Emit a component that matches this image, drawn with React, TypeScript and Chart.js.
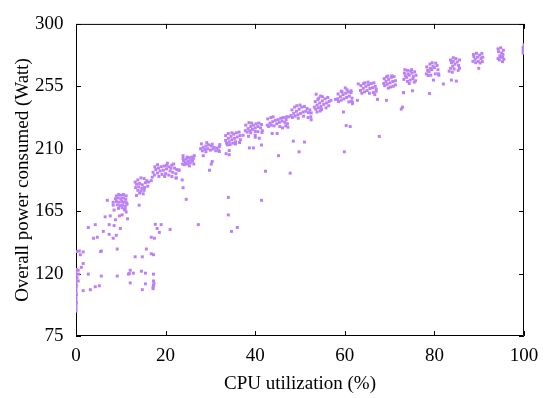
import React, { useEffect, useRef } from "react";
import { Chart, registerables } from "chart.js";

Chart.register(...registerables);

type Pt = [number, number];

const xTickValues = [0, 20, 40, 60, 80, 100];
const yTickValues = [75, 120, 165, 210, 255, 300];
const xAxisTitle = "CPU utilization (%)";
const yAxisTitle = "Overall power consumed (Watt)";

const idlePoints: Pt[] = [
  [0, 93], [0, 95], [0, 97], [0.1, 99], [0, 101], [0, 103], [0.1, 105], [0, 107], [0, 109], [0.1, 111],
  [0, 113], [0, 115], [0.2, 117], [0, 119], [0, 121], [0.1, 123], [0.5, 114.7], [0.6, 119.6], [0.5, 122.4],
  [1.2, 124.5], [1.6, 127.3], [0.15, 135.9], [0.74, 136.3], [1.6, 135.6], [0.96, 133.6], [2.75, 119.6],
  [1.6, 107.7], [3.2, 108.4], [4.3, 110.5], [5.2, 111.2], [2.75, 153.2], [3.9, 145.5], [4.75, 146.2],
  [4.3, 155.3], [5.5, 135.9], [5.65, 136.3], [5.65, 118.2],
];

const load10Points: Pt[] = [
  [6.1, 150.4], [6.5, 160.9], [7.65, 161.6], [7.4, 155.3], [7.4, 148.3], [8.5, 154.6], [8.3, 145.5],
  [9.0, 147.6], [9.9, 152.5], [8.8, 158.8], [9.7, 161.6], [10.3, 162.3], [11.5, 159.5], [11.2, 164.4],
  [11.0, 166.5], [7.0, 172.8], [8.3, 171.4], [8.3, 169.3], [8.5, 165.8], [9.2, 137.7], [9.2, 118.2],
  [12.1, 122.4], [11.7, 119.6], [12.8, 120.3], [11.9, 120], [12.1, 113.3],
  [9, 176], [9.5, 177], [10, 176.5], [10.6, 177], [11.2, 176], [8.8, 174], [9.4, 174.5], [10, 174],
  [10.6, 174.5], [11.1, 173.5], [9, 172], [9.6, 171.5], [10.2, 172], [10.8, 171.5], [11.3, 171],
  [9.2, 169.5], [9.8, 169], [10.4, 169.5], [11, 168.5], [9.5, 167], [10.3, 167.5], [10.8, 166], [11.4, 170],
];

const load15Points: Pt[] = [
  [13.2, 132.1], [14.8, 132.1], [15.7, 137.7], [16.8, 134.3], [17.3, 133.6], [14.6, 121.7], [15.5, 120.3],
  [17.3, 119.6], [15.5, 112.6], [17.3, 114.7], [17.4, 113], [17.3, 111.5], [17.2, 110.3], [17.2, 109.1],
  [14.8, 108.4], [14.1, 169.3], [13.5, 176.3], [16.8, 187], [17.7, 155.5], [19, 155.3], [18.1, 152.5],
  [18.6, 149.7], [21, 151.8], [16.8, 146.2], [17.5, 145.5],
  [13.2, 186], [13.8, 187.5], [14.5, 189], [15.2, 188.5], [15.8, 187], [13.5, 184.5], [14.2, 185],
  [14.8, 184], [15.5, 185.5], [16, 183], [13.3, 182], [14, 182.5], [14.7, 181.5], [15.3, 182], [13.8, 180],
  [14.5, 179.5], [15.2, 180], [14.2, 178], [15, 177.5], [16.2, 186],
];

const load20Points: Pt[] = [
  [17.2, 193], [17.8, 195], [18.4, 196], [19, 197], [19.6, 197.5], [20.2, 198], [20.8, 197], [21.4, 198.2],
  [22, 196], [17.5, 191], [18.2, 192.5], [18.8, 194], [19.5, 194.5], [20.2, 195.5], [21, 194], [21.6, 193],
  [22.3, 192], [18.5, 190], [19.2, 191.5], [20, 192], [20.7, 191], [21.4, 190], [22.4, 188.9], [23, 194.7],
  [20.4, 199.6], [22.3, 188.9], [21.2, 196], [19.8, 190],
  [17.6, 197], [18.2, 198.5], [22.5, 195], [21.8, 199], [17, 189.5],
];

const load25Points: Pt[] = [
  [23.8, 199], [24.4, 200], [25, 201], [25.6, 202], [26.2, 203], [24, 201.5], [24.6, 202.5], [25.2, 203.5],
  [25.8, 204], [24.2, 198.5], [24.9, 199], [25.5, 199.8], [26, 201], [24.8, 204], [23.9, 203], [23, 194.5],
  [23.7, 187.5], [23.9, 181.9], [24.6, 173.5], [27.3, 155.3],
  [23.9, 205], [26.3, 199], [26.4, 205], [25.3, 197.6],
];

const load30Points: Pt[] = [
  [27.8, 210], [28.4, 211], [29, 212], [29.6, 212.8], [30.2, 212], [30.8, 211], [31.4, 210.5], [32, 211.5],
  [28.2, 208.5], [28.8, 209.5], [29.4, 210], [30, 209], [30.6, 209.8], [31.2, 208.5], [29, 207.8],
  [30.4, 213.3], [28.4, 205], [29.8, 194.5], [30.2, 198.9], [30.4, 200.8], [32, 208], [33.5, 206.4],
  [34.2, 208.7], [34.2, 205.7],
  [28, 213.5], [31.8, 209], [29.2, 214.4], [32.1, 213],
];

const load35Points: Pt[] = [
  [33.4, 216], [34, 217.5], [34.6, 219], [35.2, 220.5], [35.8, 221.5], [36.4, 222], [33.6, 214], [34.2, 215],
  [34.8, 216.5], [35.4, 217.5], [36, 218.5], [36.6, 219.5], [34.4, 213], [35, 214], [35.6, 215],
  [34.8, 221.5], [35.6, 213.4], [37.3, 219.7], [38.5, 219], [34, 174.9], [34, 162.3], [36, 153.2], [34.7, 150.4],
  [33.4, 219.5], [34, 221], [36.5, 214.5], [36.7, 216.5], [33.8, 212.8],
];

const load40Points: Pt[] = [
  [37.8, 223], [38.4, 224.5], [39, 226], [39.6, 227], [40.2, 228], [40.8, 228.5], [41.4, 227.5], [38.2, 222],
  [38.8, 223], [39.4, 224], [40, 225], [40.6, 226], [41.2, 225], [39.2, 228.5], [40, 222.5], [41.6, 223],
  [38.7, 210.6], [39.6, 210.6], [40, 219.7], [40, 218.3], [40.9, 217.6], [41.4, 212.7], [41.4, 172.8], [42.3, 193.8],
  [37.9, 227], [38.6, 228.8], [41.5, 221.7], [40.6, 222.3], [39, 221.5],
];

const load45Points: Pt[] = [
  [42.7, 227], [43.3, 228.5], [43.9, 229.5], [44.5, 230.5], [45.1, 231], [45.7, 232], [46.3, 232.5],
  [46.9, 231], [47.5, 233], [43, 226], [43.6, 227], [44.2, 226.5], [44.8, 228], [45.4, 229], [46, 230],
  [46.6, 229], [47.2, 228], [45.5, 226], [46.8, 226.5], [47, 233], [43.8, 221], [44.9, 221], [45.2, 205], [47.8, 192.4],
  [42.8, 231.5], [43.5, 232.5], [47.3, 225.5], [46.1, 225], [44, 233],
];

const load50Points: Pt[] = [
  [48, 234], [48.6, 235.5], [49.2, 237], [49.8, 238.5], [50.4, 240], [51, 240.5], [51.6, 239], [52.2, 238],
  [48.3, 232.5], [48.9, 233.5], [49.5, 234.5], [50.1, 235.5], [50.7, 236.5], [51.3, 237], [51.9, 236],
  [49.6, 232], [50.8, 233.5], [52.5, 235.8], [52.5, 230.9], [48.5, 215.5], [51, 214.8], [49.8, 207.8], [49.3, 241],
  [48.2, 238], [48.8, 240], [52.4, 233], [51.8, 232.5], [50, 241.5],
];

const load55Points: Pt[] = [
  [53.2, 240], [53.8, 241.5], [54.4, 243], [55, 244.5], [55.6, 246], [56.2, 247], [53.5, 238.5], [54.1, 239.5],
  [54.7, 240.5], [55.3, 242], [55.9, 243], [56.5, 244], [54.2, 246.5], [55, 247.5], [53.6, 249.3],
  [54.5, 237.2], [54.8, 238.3], [56.9, 244.9], [57.9, 245.6], [59.7, 236.5], [60.3, 226.7], [61.2, 226], [59.9, 207.8],
  [53.4, 244], [54, 245.5], [55.8, 239.5], [56.4, 241], [54.6, 248], [53.8, 236.5],
];

const load60Points: Pt[] = [
  [58.4, 246], [59, 247.5], [59.6, 249], [60.2, 250], [60.8, 251], [61.4, 250.5], [58.6, 244], [59.2, 245],
  [59.8, 246], [60.4, 247], [61, 248], [61.6, 246.5], [59.4, 251], [60.1, 253.9], [61.4, 251.8],
  [61.7, 243.5], [61.7, 242.5], [62.8, 244.9], [63, 256.7],
  [58.5, 249.5], [59.2, 251.5], [61.5, 244.2], [60.9, 243.8], [60.5, 252.5],
];

const load65Points: Pt[] = [
  [63.5, 252], [64.1, 253.5], [64.7, 255], [65.3, 256], [65.9, 257], [66.5, 257.5], [63.8, 250], [64.4, 251],
  [65, 252], [65.6, 253.5], [66.2, 254], [66.8, 255], [64.5, 257.5], [65.5, 250], [67, 251.4], [66.7, 249],
  [67.3, 245.6], [69.3, 244.9], [67.7, 218.9],
  [63.6, 255.5], [64.2, 257], [67, 253], [66.4, 250.5], [65.2, 258],
];

const load70Points: Pt[] = [
  [68.7, 257], [69.2, 258.5], [69.8, 260], [70.4, 261.5], [71, 262], [68.9, 255.5], [69.5, 256.5],
  [70.1, 257.5], [70.7, 258.5], [71.3, 259], [69.6, 262.4], [70.2, 254.5], [69.7, 253.7], [73.1, 250.5],
  [72.9, 240], [72.6, 238.6],
  [68.8, 260.5], [69.3, 261.8], [71.3, 256], [70.8, 255], [70.5, 262.6],
];

const load75Points: Pt[] = [
  [73.2, 260], [73.8, 261.5], [74.4, 263], [75, 264.5], [75.6, 265.5], [73.5, 262.5], [74.1, 264], [74.7, 266],
  [75.3, 262], [75.9, 263], [74, 258.5], [74.6, 259.5], [75.2, 260.5], [73.4, 267], [74.4, 257],
  [73.1, 250.4], [75.1, 251.8],
  [73.3, 264.5], [74, 266.5], [75.8, 259], [75.5, 258], [74.9, 267],
];

const load80Points: Pt[] = [
  [78.2, 264], [78.8, 265.5], [79.4, 267], [80, 268.5], [80.6, 270], [78.5, 266.5], [79.1, 268], [79.7, 269.5],
  [80.3, 271.7], [80.8, 267], [79.2, 263], [80.2, 264], [78.6, 262.8], [79.8, 259.5], [78.9, 249.8], [82, 256.7],
  [78.3, 269], [79, 271], [80.9, 264], [81, 263], [79.5, 272],
];

const load85Points: Pt[] = [
  [83.6, 268], [84.1, 269.5], [84.6, 271], [85.1, 272.5], [85.6, 274], [84.2, 275.6], [84.8, 275], [83.8, 272],
  [85.4, 270], [84.4, 267.5], [83.3, 265.9], [84, 265.2], [83.8, 259.5], [84.9, 258.8],
  [83.6, 274], [84.2, 273], [85.6, 268], [85.3, 266.5],
];

const load90Points: Pt[] = [
  [88.6, 273], [89.1, 274.5], [89.6, 276], [90.1, 277.5], [90.6, 278.7], [89.2, 272], [89.8, 273],
  [90.4, 275], [88.8, 276.5], [90.8, 276], [89.9, 268],
  [88.7, 278], [89.4, 278.8], [90.7, 272.8], [90.2, 271.8],
];

const load95Points: Pt[] = [
  [94.2, 275], [94.6, 277], [95, 279], [95.4, 281], [94.8, 282.8], [94.3, 280], [95.3, 278], [94.5, 274],
  [95.2, 276], [95.2, 272.8], [94.2, 282], [95.5, 274.5], [94.8, 276],
];

const load100Points: Pt[] = [
  [99.8, 279], [99.8, 281], [99.8, 283], [100, 285], [100, 280], [100, 282],
];

const allPoints: Pt[] = [
  ...idlePoints, ...load10Points, ...load15Points, ...load20Points, ...load25Points, ...load30Points,
  ...load35Points, ...load40Points, ...load45Points, ...load50Points, ...load55Points, ...load60Points,
  ...load65Points, ...load70Points, ...load75Points, ...load80Points, ...load85Points, ...load90Points,
  ...load95Points, ...load100Points,
];

const FONT_FAMILY = "'Liberation Serif', 'Times New Roman', Times, serif";

export default function App() {
  const ref = useRef<HTMLCanvasElement>(null);

  useEffect(() => {
    if (!ref.current) return;
    const font = { family: FONT_FAMILY, size: 19 };

    const gnuFrame = {
      id: "gnuFrame",
      beforeDatasetsDraw(chart: any) {
        const { ctx, chartArea: a, scales } = chart;
        ctx.save();
        ctx.strokeStyle = "#000";
        ctx.lineWidth = 1;
        ctx.beginPath();
        ctx.rect(a.left + 0.5, a.top + 0.5, a.right - a.left - 1, a.bottom - a.top - 1);
        ctx.stroke();
        const tl = 5;
        ctx.beginPath();
        for (const v of xTickValues) {
          const x = Math.round(scales.x.getPixelForValue(v)) + 0.5;
          ctx.moveTo(x, a.bottom);
          ctx.lineTo(x, a.bottom - tl);
          ctx.moveTo(x, a.top);
          ctx.lineTo(x, a.top + tl);
        }
        for (const v of yTickValues) {
          const y = Math.round(scales.y.getPixelForValue(v)) + 0.5;
          ctx.moveTo(a.left, y);
          ctx.lineTo(a.left + tl, y);
          ctx.moveTo(a.right, y);
          ctx.lineTo(a.right - tl, y);
        }
        ctx.stroke();
        ctx.restore();
      },
    };

    const chart = new Chart(ref.current, {
      type: "scatter",
      data: {
        datasets: [
          {
            label: "power",
            data: allPoints.map(([x, y]) => ({ x, y })),
            pointStyle: "rect",
            pointRadius: 2.1,
            pointHoverRadius: 2.1,
            borderWidth: 0,
            backgroundColor: "#bb80f7",
            borderColor: "#bb80f7",
          },
        ],
      },
      options: {
        animation: false,
        responsive: false,
        devicePixelRatio: 1,
        layout: { padding: { left: 0, top: 14, right: 27, bottom: 0 } },
        plugins: { legend: { display: false }, tooltip: { enabled: false } },
        scales: {
          x: {
            type: "linear",
            min: 0,
            max: 100,
            afterBuildTicks: (s: any) => {
              s.ticks = xTickValues.map((v) => ({ value: v }));
            },
            afterFit: (s: any) => {
              s.height = 62;
            },
            grid: { display: false, drawTicks: false },
            border: { display: false },
            ticks: { color: "#000", font, padding: 9, maxRotation: 0 },
            title: {
              display: true,
              text: xAxisTitle,
              color: "#000",
              font,
              padding: { top: 0, bottom: 3 },
            },
          },
          y: {
            type: "linear",
            min: 75,
            max: 300,
            afterBuildTicks: (s: any) => {
              s.ticks = yTickValues.map((v) => ({ value: v }));
            },
            afterFit: (s: any) => {
              s.width = 76;
            },
            grid: { display: false, drawTicks: false },
            border: { display: false },
            ticks: { color: "#000", font, padding: 12.5 },
            title: {
              display: true,
              text: yAxisTitle,
              color: "#000",
              font,
              padding: { top: 11.5, bottom: 0 },
            },
          },
        },
      },
      plugins: [gnuFrame],
    });

    return () => chart.destroy();
  }, []);

  return (
    <div style={{ position: "absolute", left: 0, top: 0, width: 551, height: 398, background: "#fff" }}>
      <canvas ref={ref} width={551} height={398} style={{ display: "block", width: 551, height: 398 }} />
    </div>
  );
}
